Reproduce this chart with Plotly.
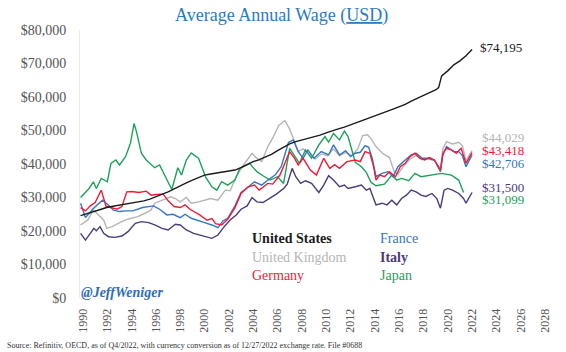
import plotly.graph_objects as go

# ---------------- data (values in thousands of USD) ----------------
us_x = [1989.8, 1990.5, 1991.0, 1991.5, 1992.0, 1992.5, 1993.0, 1993.5, 1994.0, 1994.5,
        1995.0, 1995.5, 1996.0, 1996.5, 1997.0, 1997.5, 1998.0, 1998.5, 1999.0, 1999.5,
        2000.0, 2000.5, 2001.0, 2001.5, 2002.0, 2002.5, 2003.0, 2003.5, 2004.0, 2004.5,
        2005.0, 2005.5, 2006.0, 2006.5, 2007.0, 2007.5, 2008.0, 2008.5, 2009.0, 2009.5,
        2010.0, 2010.5, 2011.0, 2011.5, 2012.0, 2012.5, 2013.0, 2013.5, 2014.0, 2014.5,
        2015.0, 2015.5, 2016.0, 2016.5, 2017.0, 2017.5, 2018.0, 2018.5, 2019.0, 2019.25,
        2019.5, 2020.0, 2020.5, 2021.0, 2021.5, 2022.0]
us_y = [24.6, 25.3, 25.9, 26.5, 27.1, 27.4, 27.8, 28.0, 28.3, 28.6,
        29.0, 29.5, 30.2, 30.9, 31.7, 32.6, 33.6, 34.4, 35.2, 35.9,
        36.7, 37.0, 37.3, 37.6, 37.9, 38.2, 38.9, 39.8, 40.7, 41.3,
        42.1, 42.9, 44.0, 45.0, 46.0, 46.7, 47.2, 47.5, 48.0, 48.6,
        49.3, 50.0, 50.5, 51.0, 51.6, 52.3, 53.0, 53.7, 54.3, 55.0,
        55.7, 56.4, 57.0, 57.8, 58.8, 59.7, 60.6, 61.3, 62.1, 62.8,
        66.3, 67.8, 69.6, 70.8, 72.3, 74.2]

uk_x = [1989.8, 1990.4, 1990.85, 1991.3, 1991.7, 1991.95, 1992.4, 1992.9, 1993.5, 1994.0,
        1994.5, 1995.1, 1995.6, 1995.9, 1996.5, 1997.2, 1997.6, 1998.0, 1998.5, 1998.9,
        1999.5, 2000.0, 2000.5, 2001.1, 2001.7, 2002.1, 2002.6, 2003.2, 2003.6, 2003.9,
        2004.2, 2004.7, 2005.2, 2005.6, 2006.1, 2006.6, 2007.0, 2007.4, 2007.7, 2008.1,
        2008.6, 2009.1, 2009.6, 2010.1, 2010.6, 2011.1, 2011.6, 2012.1, 2012.6, 2013.0,
        2013.4, 2013.7, 2014.1, 2014.7, 2015.2, 2015.6, 2015.9, 2016.4, 2016.9, 2017.4,
        2017.9, 2018.4, 2018.9, 2019.4, 2019.6, 2019.9, 2020.4, 2020.9, 2021.2, 2021.5,
        2022.0]
uk_y = [21.8, 23.3, 26.3, 24.8, 23.3, 20.8, 21.3, 22.3, 23.3, 23.8,
        24.3, 25.3, 26.3, 28.3, 29.2, 30.2, 29.7, 28.7, 30.0, 28.3,
        28.7, 29.2, 29.7, 29.2, 32.2, 32.0, 36.2, 39.7, 41.5, 43.2,
        42.0, 40.7, 45.2, 47.7, 51.5, 53.0, 50.4, 46.5, 43.7, 44.5,
        43.0, 41.5, 43.0, 42.5, 44.5, 42.5, 43.5, 42.5, 44.5, 48.5,
        48.7, 47.5, 45.2, 43.0, 42.0, 37.7, 37.0, 39.5, 41.5, 42.5,
        41.5, 41.5, 41.0, 38.5, 44.5, 46.7, 46.0, 46.5, 45.5, 41.0,
        44.0]

de_x = [1989.8, 1990.2, 1990.6, 1991.0, 1991.5, 1991.9, 1992.3, 1992.8, 1993.2, 1993.6,
        1994.0, 1994.6, 1995.2, 1995.6, 1996.0, 1996.6, 1997.0, 1997.5, 1998.0, 1998.4,
        1998.8, 1999.6, 2000.2, 2000.6, 2000.9, 2001.4, 2001.9, 2002.5, 2003.0, 2003.6,
        2004.1, 2004.5, 2005.2, 2005.6, 2006.2, 2007.0, 2007.4, 2007.7, 2008.1, 2008.7,
        2009.2, 2009.8, 2010.3, 2010.7, 2011.1, 2011.7, 2012.4, 2012.8, 2013.2, 2013.6,
        2013.9, 2014.1, 2014.4, 2014.8, 2015.2, 2015.7, 2016.1, 2016.5, 2016.9, 2017.3,
        2017.7, 2018.1, 2018.5, 2018.9, 2019.4, 2019.6, 2019.9, 2020.3, 2020.7, 2021.1,
        2021.5, 2022.0]
de_y = [27.0, 26.0, 27.5, 28.5, 32.2, 27.3, 27.0, 26.5, 27.3, 31.7,
        31.8, 31.5, 31.9, 30.7, 30.9, 31.0, 29.0, 27.3, 27.0, 27.8,
        26.5, 24.8, 23.2, 23.7, 22.2, 21.8, 23.5, 27.0, 31.2, 33.2,
        33.7, 32.2, 34.2, 34.0, 36.7, 43.7, 41.7, 39.7, 41.7, 38.2,
        36.7, 41.7, 38.7, 39.8, 38.7, 40.7, 41.2, 40.7, 43.7, 43.2,
        39.2, 35.2, 36.7, 36.2, 37.7, 36.2, 39.2, 40.2, 42.2, 43.2,
        41.7, 41.2, 41.9, 41.2, 38.2, 43.2, 44.7, 44.2, 43.2, 44.7,
        40.2, 43.4]

fr_x = [1989.8, 1990.2, 1990.85, 1991.4, 1991.6, 1992.1, 1992.5, 1993.0, 1993.5, 1994.1,
        1994.9, 1995.8, 1996.3, 1996.9, 1997.4, 1998.0, 1998.4, 1998.9, 1999.5, 2000.0,
        2000.6, 2001.1, 2001.5, 2001.9, 2002.5, 2003.0, 2003.6, 2004.1, 2004.7, 2005.2,
        2005.8, 2006.3, 2006.9, 2007.3, 2007.7, 2008.1, 2008.5, 2009.0, 2009.6, 2010.2,
        2010.6, 2011.1, 2011.6, 2012.0, 2012.4, 2012.8, 2013.2, 2013.5, 2013.8, 2014.1,
        2014.6, 2015.1, 2015.5, 2015.9, 2016.5, 2017.0, 2017.4, 2017.9, 2018.4, 2018.9,
        2019.4, 2019.6, 2019.9, 2020.5, 2020.9, 2021.2, 2021.5, 2022.0]
fr_y = [28.3, 24.0, 26.7, 28.7, 29.2, 27.7, 26.2, 25.8, 26.0, 26.0,
        27.0, 27.5, 26.5, 24.8, 25.0, 24.0, 25.0, 23.8, 23.2, 22.5,
        21.8, 21.0, 23.0, 23.8, 27.5, 31.5, 33.2, 34.7, 33.7, 35.2,
        36.7, 39.2, 46.4, 47.2, 43.7, 41.7, 44.2, 41.7, 43.7, 42.7,
        45.7, 42.7, 44.0, 42.2, 43.2, 43.5, 45.5, 45.0, 41.5, 36.2,
        37.2, 37.7, 36.2, 39.2, 41.2, 42.7, 43.2, 41.7, 41.7, 41.2,
        37.7, 42.7, 45.2, 43.7, 43.7, 42.5, 39.2, 42.7]

it_x = [1989.8, 1990.2, 1990.6, 1990.9, 1991.1, 1991.4, 1991.7, 1992.1, 1992.6, 1993.2,
        1993.7, 1994.3, 1994.8, 1995.4, 1995.9, 1996.5, 1997.0, 1997.6, 1998.0, 1998.5,
        1999.1, 1999.6, 2000.2, 2000.6, 2001.1, 2001.5, 2002.1, 2002.6, 2003.0, 2003.5,
        2003.9, 2004.3, 2004.8, 2005.4, 2005.9, 2006.5, 2006.8, 2007.2, 2007.5, 2007.9,
        2008.3, 2008.8, 2009.4, 2009.8, 2010.2, 2010.6, 2011.1, 2011.5, 2011.8, 2012.4,
        2012.9, 2013.3, 2013.6, 2013.9, 2014.1, 2014.6, 2015.0, 2015.4, 2015.8, 2016.2,
        2016.6, 2017.0, 2017.4, 2017.8, 2018.2, 2018.7, 2019.1, 2019.4, 2019.7, 2020.0,
        2020.4, 2020.9, 2021.3, 2021.5, 2022.0]
it_y = [19.3, 17.3, 19.3, 20.8, 20.1, 21.3, 19.3, 18.3, 18.1, 18.5,
        19.8, 22.3, 22.8, 22.5, 21.8, 20.8, 20.3, 22.0, 21.8, 20.3,
        19.3, 18.8, 18.3, 17.8, 18.8, 20.8, 23.3, 24.8, 26.5, 27.5,
        30.0, 28.7, 28.5, 29.8, 31.0, 32.7, 34.0, 38.7, 36.2, 34.2,
        35.0, 34.2, 31.5, 33.7, 36.5, 35.2, 33.2, 33.7, 32.7, 33.2,
        33.7, 32.2, 32.7, 29.7, 27.8, 28.3, 27.8, 29.2, 27.8, 29.7,
        30.7, 32.2, 31.7, 30.7, 30.3, 31.2, 29.7, 26.8, 32.2, 32.7,
        32.2, 31.2, 29.7, 28.3, 31.5]

jp_x = [1989.8, 1990.5, 1990.85, 1991.1, 1991.5, 1992.0, 1992.3, 1992.7, 1993.0, 1993.5,
        1993.9, 1994.2, 1994.4, 1994.8, 1995.2, 1995.9, 1996.3, 1996.8, 1997.3, 1997.8,
        1998.1, 1998.5, 1998.9, 1999.5, 2000.1, 2000.6, 2001.0, 2001.4, 2001.9, 2002.5,
        2002.9, 2003.7, 2004.3, 2004.8, 2005.4, 2006.0, 2006.5, 2007.0, 2007.4, 2007.8,
        2008.3, 2008.8, 2009.4, 2009.9, 2010.2, 2010.6, 2011.1, 2011.5, 2011.8, 2012.4,
        2012.9, 2013.3, 2013.7, 2014.1, 2014.8, 2015.4, 2015.8, 2016.2, 2016.8, 2017.3,
        2017.8, 2018.7, 2019.5, 2020.3, 2020.9, 2021.3]
jp_y = [30.0, 32.7, 34.7, 32.7, 35.7, 34.7, 40.2, 41.2, 39.7, 42.2,
        46.2, 52.1, 49.6, 43.2, 41.2, 38.9, 39.7, 36.2, 32.4, 38.9,
        36.7, 41.2, 43.3, 41.7, 36.0, 33.2, 32.2, 34.7, 33.7, 35.2,
        38.7, 40.2, 37.7, 36.5, 35.2, 36.2, 34.2, 44.7, 42.5, 40.2,
        44.2, 41.7, 45.7, 48.2, 46.5, 49.1, 47.2, 49.8, 48.2, 40.5,
        39.2, 37.5, 34.5, 33.5, 34.0, 36.7, 35.2, 35.7, 35.0, 37.2,
        36.2, 36.7, 37.2, 36.7, 35.2, 31.5]

end_labels = ["$74,195", "$44,029", "$43,418", "$42,706", "$31,500", "$31,099"]
legend_names = ["United States", "United Kingdom", "Germany", "France", "Italy", "Japan"]
x_ticks = list(range(1990, 2029, 2))
y_ticks = list(range(0, 80001, 10000))
y_tick_text = ["$" + format(v, ",") for v in y_ticks]

# ---------------- styling ----------------
FONT = "Liberation Serif"
colors = {"us": "#1b1b1b", "uk": "#b5b5b5", "de": "#ee1c3a", "fr": "#3576c0",
          "it": "#4b3a7c", "jp": "#1fa05c"}

W, H = 566, 352
L, R, T, B = 80, 10, 30, 54
PW, PH = W - L - R, H - T - B


def px(x):
    return (x - L) / PW


def py(y):
    return (H - B - y) / PH


fig = go.Figure()
series = [("uk", uk_x, uk_y), ("jp", jp_x, jp_y), ("it", it_x, it_y),
          ("fr", fr_x, fr_y), ("de", de_x, de_y), ("us", us_x, us_y)]
for key, xs, ys in series:
    fig.add_trace(go.Scatter(x=xs, y=[v * 1000 for v in ys], mode="lines",
                             line=dict(color=colors[key], width=1.4),
                             showlegend=False, hoverinfo="skip"))

ann = []
ann.append(dict(text="Average Annual Wage (<u>USD</u>)", x=px(281), y=py(16),
                xref="paper", yref="paper", xanchor="center", yanchor="middle",
                showarrow=False, font=dict(family=FONT, size=18, color="#2b7bbd")))

end_pos = [(478, 47, "us"), (480, 137, "uk"), (480, 150, "de"), (480, 163, "fr"),
           (480, 187, "it"), (480, 200, "jp")]
for (x0, y0, key), txt in zip(end_pos, end_labels):
    ann.append(dict(text=txt, x=px(x0), y=py(y0), xref="paper", yref="paper",
                    xanchor="left", yanchor="middle", showarrow=False,
                    font=dict(family=FONT, size=13, color=colors[key])))

leg_pos = [(250, 238, "us", True), (250, 257, "uk", False), (250, 275, "de", False),
           (378, 238, "fr", False), (378, 257, "it", True), (378, 275, "jp", False)]
for (x0, y0, key, bold), name in zip(leg_pos, legend_names):
    ann.append(dict(text=("<b>%s</b>" % name) if bold else name, x=px(x0), y=py(y0),
                    xref="paper", yref="paper", xanchor="left", yanchor="middle",
                    showarrow=False,
                    font=dict(family=FONT, size=14, color=colors[key])))

ann.append(dict(text="<b><i>@JeffWeniger</i></b>", x=px(79), y=py(292), xref="paper",
                yref="paper", xanchor="left", yanchor="middle", showarrow=False,
                font=dict(family=FONT, size=14, color="#2f6db4")))
ann.append(dict(text="Source: Refinitiv, OECD, as of Q4/2022, with currency conversion as of "
                     "12/27/2022 exchange rate. File #0688",
                x=px(5), y=py(345), xref="paper", yref="paper", xanchor="left",
                yanchor="middle", showarrow=False,
                font=dict(family=FONT, size=8, color="#333333")))

x0_year = 1990 - (83 - L) / 12.158
fig.update_layout(
    width=W, height=H, margin=dict(l=L, r=R, t=T, b=B),
    paper_bgcolor="white", plot_bgcolor="white",
    annotations=ann,
    xaxis=dict(range=[x0_year, x0_year + PW / 12.158], tickvals=x_ticks,
               ticktext=[str(t) for t in x_ticks], tickangle=-90,
               showgrid=False, zeroline=False, showline=False,
               ticks="outside", ticklen=5, tickcolor="rgba(0,0,0,0)",
               tickfont=dict(family=FONT, size=12, color="#555555")),
    yaxis=dict(range=[0, 80000], tickvals=y_ticks, ticktext=y_tick_text,
               showgrid=False, zeroline=False, showline=True, linecolor="#ececec",
               linewidth=1, ticks="outside", ticklen=10, tickcolor="rgba(0,0,0,0)",
               tickfont=dict(family=FONT, size=14, color="#555555")),
)

fig.write_html("out.html")
